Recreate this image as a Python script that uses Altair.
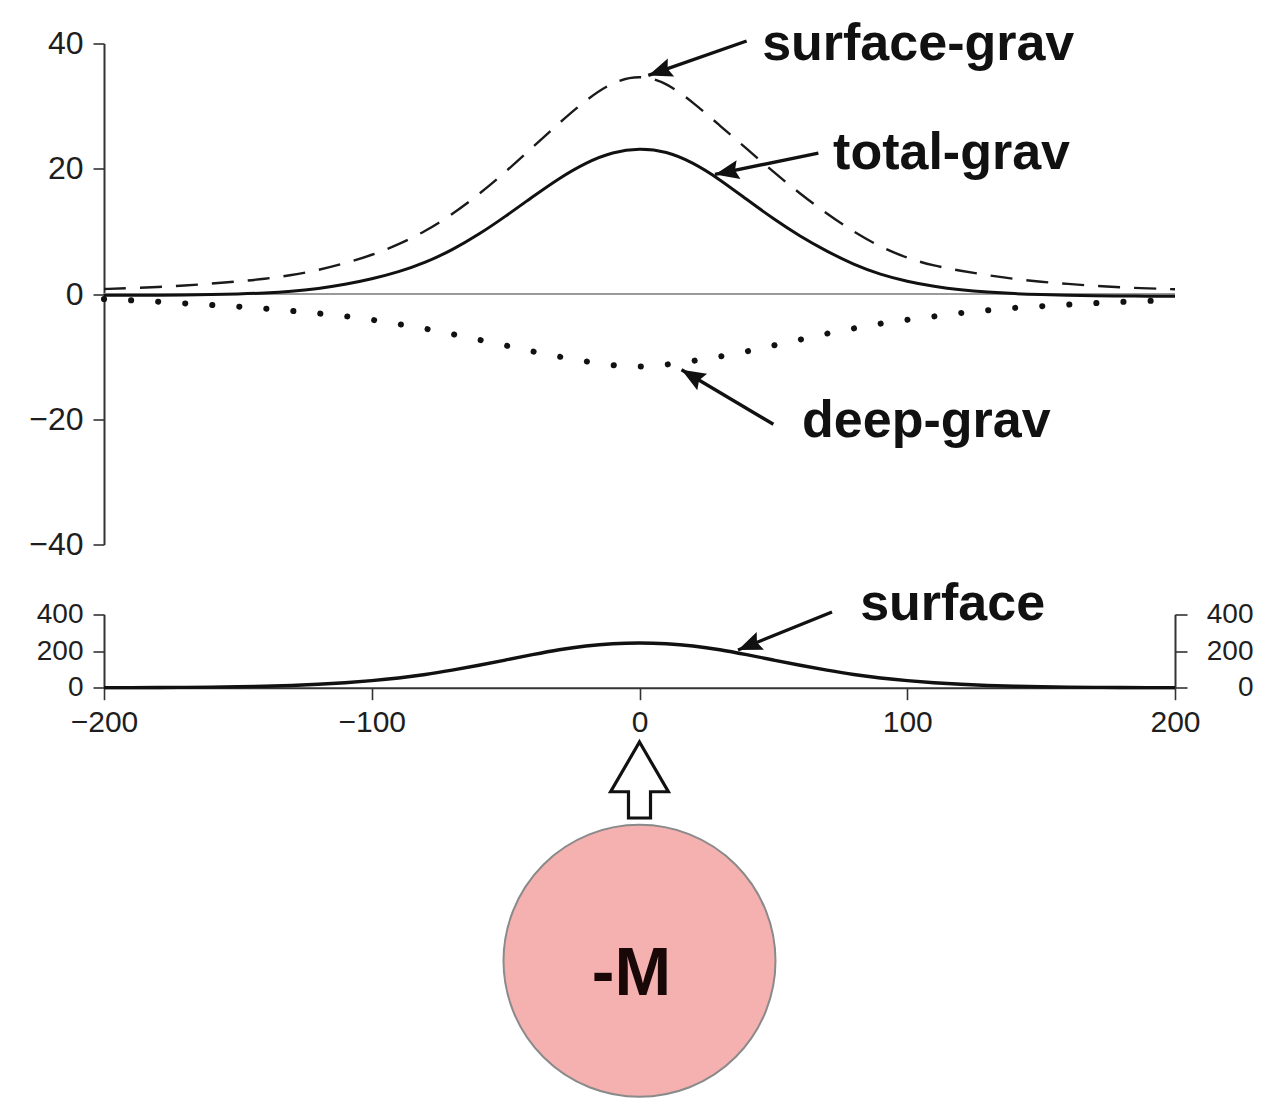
import math
import altair as alt
import pandas as pd

FONT = "Liberation Sans"

# ---------------- data ----------------
X = list(range(-200, 201, 10))

surface_grav = [0.8, 0.95, 1.1, 1.35, 1.65, 2.0, 2.4, 3.0, 3.8, 4.9, 6.2, 7.9, 10.0, 12.7, 15.9,
                19.5, 23.4, 27.3, 31.0, 33.9, 35.0, 33.8, 30.6, 26.9, 23.2, 19.5, 16.0, 12.8,
                9.9, 7.5, 5.7, 4.5, 3.7, 3.0, 2.4, 1.95, 1.6, 1.3, 1.05, 0.9, 0.75]

total_grav = [-0.2, -0.2, -0.2, -0.15, -0.1, 0.0, 0.15, 0.4, 0.85, 1.5, 2.4, 3.5, 5.0, 7.0, 9.5,
              12.4, 15.5, 18.5, 21.0, 22.7, 23.3, 22.8, 21.0, 18.3, 15.1, 12.0, 9.2, 6.8,
              4.7, 3.1, 2.0, 1.2, 0.65, 0.3, 0.05, -0.1, -0.2, -0.3, -0.3, -0.35, -0.35]

deep_grav = [-0.8, -1.0, -1.2, -1.5, -1.75, -2.0, -2.3, -2.7, -3.1, -3.5, -4.1, -4.8, -5.5, -6.4,
             -7.3, -8.2, -9.2, -10.0, -10.8, -11.4, -11.7, -11.3, -10.7, -10.0, -9.2, -8.2,
             -7.3, -6.3, -5.5, -4.7, -4.1, -3.6, -3.0, -2.6, -2.2, -1.95, -1.7, -1.45, -1.25,
             -1.1, -1.0]

surface_topo = [0.3, 0.5, 1, 2, 3, 5, 8, 12, 18, 27, 38, 52, 71, 96, 122, 151, 180, 208, 229, 241,
                245, 241, 229, 208, 180, 151, 122, 96, 71, 52, 38, 27, 18, 12, 8, 5, 3, 2, 1, 0.5, 0.3]

# annotations (data units of the upper panel)
top_labels = ["surface-grav", "total-grav", "deep-grav"]
top_label_x = [45.8, 72.3, 60.7]
top_label_y = [37.3, 20.0, -22.8]
top_arrow_x0 = [40.0, 66.8, 50.0]
top_arrow_y0 = [40.4, 22.5, -20.8]
top_arrow_x1 = [3.3, 28.2, 15.7]
top_arrow_y1 = [34.9, 19.1, -12.1]

# annotation of the lower panel
bot_labels = ["surface"]
bot_label_x = [82.4]
bot_label_y = [369]
bot_arrow_x0 = [71.9]
bot_arrow_y0 = [412.5]
bot_arrow_x1 = [36.8]
bot_arrow_y1 = [205.7]

# sketch below: anomalous mass at depth (km)
mass_label = ["-M"]
mass_x = [0]
mass_depth = [97.5]
mass_label_x = [-3]
mass_label_depth = [110.2]
arrow_x = [0]
arrow_depth = [29.9]

x_ticks = [-200, -100, 0, 100, 200]
top_ticks = [-40, -20, 0, 20, 40]
bot_ticks = [0, 200, 400]

# ---------------- layout ----------------
W, H = 1071, 1060
PX_X = W / 400.0
PX_TOP = 501 / 80.0
PX_BOT = 73.4 / 400.0


def angle(x0, y0, x1, y1, py):
    dx = (x1 - x0) * PX_X
    dy = -(y1 - y0) * py
    return math.degrees(math.atan2(dx, -dy)) % 360


xscale = alt.Scale(domain=[-200, 200], nice=False, zero=False)
top_scale = alt.Scale(domain=[-40, 40], range=[501, 0], nice=False, zero=False)
bot_scale = alt.Scale(domain=[0, 400], range=[644.2, 570.8], nice=False, zero=False)
sk_scale = alt.Scale(domain=[0, 154], range=[656.5, 1068.5], nice=False, zero=False)

axis_style = dict(domainColor="#333333", domainWidth=2, tickColor="#333333", tickWidth=1.6,
                  labelColor="#1e1e1e", labelFont=FONT, grid=False, title=None,
                  labelFlush=False, labelOverlap=False)

x_axis = alt.Axis(orient="bottom", offset=644.2 - H, values=x_ticks, tickSize=12,
                  labelPadding=8, labelFontSize=30, **axis_style)
top_axis = alt.Axis(orient="left", values=top_ticks, tickSize=11, labelPadding=10,
                    labelFontSize=32, **axis_style)
bot_left_axis = alt.Axis(orient="left", values=bot_ticks, tickSize=11, labelPadding=10,
                         labelFontSize=28, **axis_style)
bot_right_axis = alt.Axis(orient="right", values=bot_ticks, tickSize=12, labelPadding=66,
                          labelAlign="right", labelFontSize=28, **axis_style)


def X_(field):
    return alt.X(f"{field}:Q", scale=xscale, axis=x_axis)


HEAD = "M0,0L0.8,2L0,1.7L-0.8,2Z"
UP_ARROW = "M0,-1L0.76,0.31L0.29,0.31L0.29,1L-0.29,1L-0.29,0.31L-0.76,0.31Z"

curves = pd.DataFrame({"x": X, "sg": surface_grav, "tg": total_grav, "dg": deep_grav,
                       "topo": surface_topo})

# ---------------- upper panel ----------------
zero_df = pd.DataFrame({"x0": [-200], "x1": [200], "v": [0]})
zero_line = alt.Chart(zero_df).mark_rule(color="#9a9a9a", strokeWidth=2).encode(
    x=X_("x0"), x2="x1", y=alt.Y("v:Q", scale=top_scale, axis=top_axis))

sg_line = alt.Chart(curves).mark_line(color="#1a1a1a", strokeWidth=2.4, strokeDash=[22, 14],
                                      interpolate="basis").encode(
    x=X_("x"), y=alt.Y("sg:Q", scale=top_scale, axis=top_axis))
tg_line = alt.Chart(curves).mark_line(color="#111111", strokeWidth=3,
                                      interpolate="basis").encode(
    x=X_("x"), y=alt.Y("tg:Q", scale=top_scale, axis=top_axis))
dg_line = alt.Chart(curves).mark_line(color="#111111", strokeWidth=6, strokeDash=[0.1, 27],
                                      strokeCap="round", interpolate="basis").encode(
    x=X_("x"), y=alt.Y("dg:Q", scale=top_scale, axis=top_axis))

top_arrows = pd.DataFrame({"x0": top_arrow_x0, "y0": top_arrow_y0, "x1": top_arrow_x1,
                           "y1": top_arrow_y1})
top_arrows["ang"] = [angle(a, b, c, d, PX_TOP) for a, b, c, d in
                     zip(top_arrow_x0, top_arrow_y0, top_arrow_x1, top_arrow_y1)]
top_shafts = alt.Chart(top_arrows).mark_rule(color="#111111", strokeWidth=3.4).encode(
    x=X_("x0"), x2="x1", y=alt.Y("y0:Q", scale=top_scale, axis=top_axis), y2="y1")
top_heads = alt.Chart(top_arrows).mark_point(shape=HEAD, filled=True, color="#111111",
                                             opacity=1, size=576, strokeWidth=0).encode(
    x=X_("x1"), y=alt.Y("y1:Q", scale=top_scale, axis=top_axis),
    angle=alt.Angle("ang:Q", scale=None))

top_text_df = pd.DataFrame({"t": top_labels, "x": top_label_x, "y": top_label_y})
top_text = alt.Chart(top_text_df).mark_text(align="left", baseline="alphabetic", font=FONT,
                                            fontSize=52, fontWeight="bold",
                                            color="#111111").encode(
    x=X_("x"), y=alt.Y("y:Q", scale=top_scale, axis=top_axis), text="t:N")

upper = alt.layer(zero_line, sg_line, tg_line, dg_line, top_shafts, top_heads, top_text)

# ---------------- lower panel ----------------
topo_line = alt.Chart(curves).mark_line(color="#111111", strokeWidth=3.4,
                                        interpolate="basis").encode(
    x=X_("x"), y=alt.Y("topo:Q", scale=bot_scale, axis=bot_left_axis))

bot_arrows = pd.DataFrame({"x0": bot_arrow_x0, "y0": bot_arrow_y0, "x1": bot_arrow_x1,
                           "y1": bot_arrow_y1})
bot_arrows["ang"] = [angle(a, b, c, d, PX_BOT) for a, b, c, d in
                     zip(bot_arrow_x0, bot_arrow_y0, bot_arrow_x1, bot_arrow_y1)]
bot_shaft = alt.Chart(bot_arrows).mark_rule(color="#111111", strokeWidth=3.4).encode(
    x=X_("x0"), x2="x1", y=alt.Y("y0:Q", scale=bot_scale, axis=bot_right_axis), y2="y1")
bot_head = alt.Chart(bot_arrows).mark_point(shape=HEAD, filled=True, color="#111111",
                                            opacity=1, size=576, strokeWidth=0).encode(
    x=X_("x1"), y=alt.Y("y1:Q", scale=bot_scale, axis=bot_right_axis),
    angle=alt.Angle("ang:Q", scale=None))
bot_text_df = pd.DataFrame({"t": bot_labels, "x": bot_label_x, "y": bot_label_y})
bot_text = alt.Chart(bot_text_df).mark_text(align="left", baseline="alphabetic", font=FONT,
                                            fontSize=52, fontWeight="bold",
                                            color="#111111").encode(
    x=X_("x"), y=alt.Y("y:Q", scale=bot_scale, axis=bot_right_axis), text="t:N")
lower_annot = alt.layer(bot_shaft, bot_head, bot_text)

# ---------------- sketch ----------------
mass_df = pd.DataFrame({"x": mass_x, "d": mass_depth})
circle = alt.Chart(mass_df).mark_point(shape="circle", filled=True, fill="#F4B1B0",
                                       stroke="#8a8a8a", strokeWidth=2, opacity=1,
                                       size=272 * 272).encode(
    x=X_("x"), y=alt.Y("d:Q", scale=sk_scale, axis=None))
m_df = pd.DataFrame({"x": mass_label_x, "d": mass_label_depth, "t": mass_label})
m_text = alt.Chart(m_df).mark_text(align="center", baseline="alphabetic", font=FONT,
                                   fontSize=68, fontWeight="bold", color="#1a0808").encode(
    x=X_("x"), y=alt.Y("d:Q", scale=sk_scale, axis=None), text="t:N")
arr_df = pd.DataFrame({"x": arrow_x, "d": arrow_depth})
up_arrow = alt.Chart(arr_df).mark_point(shape=UP_ARROW, filled=True, fill="white",
                                        stroke="#111111", strokeWidth=3.2, opacity=1,
                                        size=76 * 76).encode(
    x=X_("x"), y=alt.Y("d:Q", scale=sk_scale, axis=None))
sketch = alt.layer(up_arrow, circle, m_text)

chart = alt.layer(upper, topo_line, lower_annot, sketch).resolve_scale(
    y="independent").properties(
    width=W, height=H,
    autosize=alt.AutoSizeParams(type="none"),
    padding={"left": 104, "top": 43.5, "right": 97, "bottom": 8.5},
    background="white",
).configure_view(stroke=None)

chart.save("out.html", embed_options={"renderer": "svg", "actions": False})
